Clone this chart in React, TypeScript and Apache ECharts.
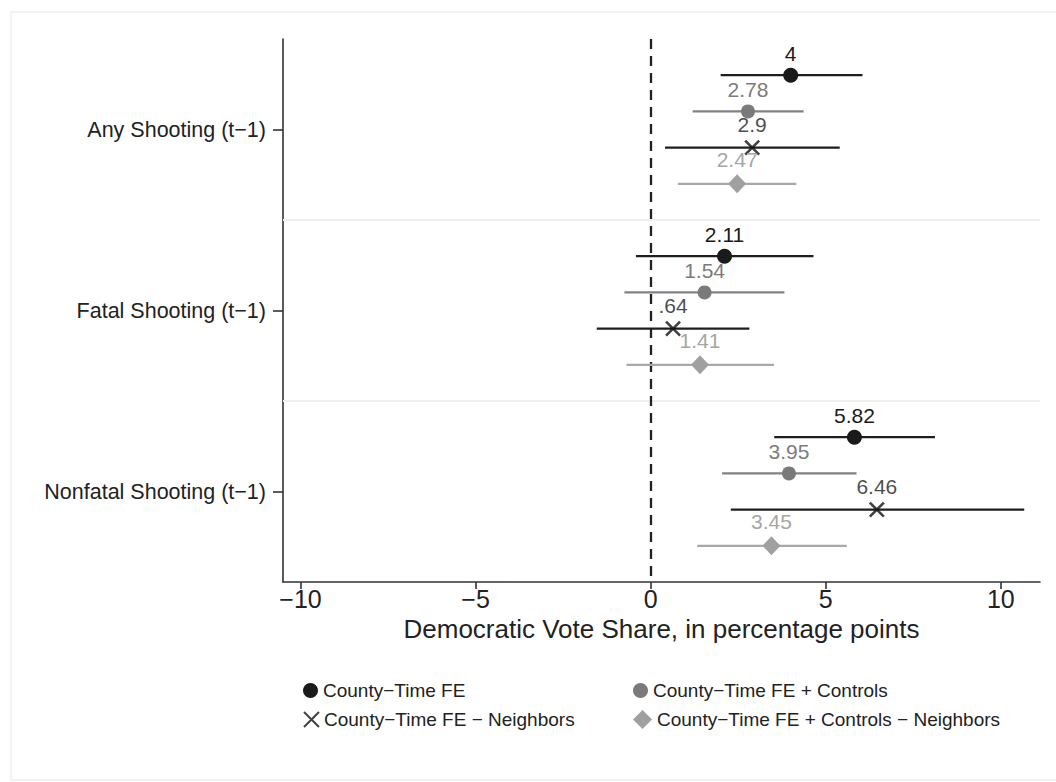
import React, { useEffect, useRef } from "react";
import * as echarts from "echarts";

const categories = ["Any Shooting (t−1)", "Fatal Shooting (t−1)", "Nonfatal Shooting (t−1)"];
const models = [
  "County−Time FE",
  "County−Time FE + Controls",
  "County−Time FE − Neighbors",
  "County−Time FE + Controls − Neighbors",
];
// point estimates per model, one per category
const est1 = [4, 2.11, 5.82];
const est2 = [2.78, 1.54, 3.95];
const est3 = [2.9, 0.64, 6.46];
const est4 = [2.47, 1.41, 3.45];
// confidence interval bounds
const lo1 = [2.0, -0.42, 3.53];
const hi1 = [6.05, 4.65, 8.12];
const lo2 = [1.2, -0.75, 2.04];
const hi2 = [4.37, 3.82, 5.88];
const lo3 = [0.41, -1.54, 2.29];
const hi3 = [5.4, 2.82, 10.67];
const lo4 = [0.78, -0.69, 1.33];
const hi4 = [4.16, 3.52, 5.6];
const xTicks = [-10, -5, 0, 5, 10];

const FONT = "'Liberation Sans', Arial, Helvetica, sans-serif";

const ests = [est1, est2, est3, est4];
const los = [lo1, lo2, lo3, lo4];
const his = [hi1, hi2, hi3, hi4];
const barColors = ["#1e1e1e", "#828282", "#1e1e1e", "#a8a8a8"];
const markColors = ["#1a1a1a", "#7a7a7a", "#111111", "#a0a0a0"];
const labelColors = ["#1a1a1a", "#7c7c7c", "#1a1a1a", "#a6a6a6"];
const symbols = ["circle", "circle", "path://M0,0L10,10M10,0L0,10", "diamond"];
const symbolSizes: any[] = [15, 14, 14, [18, 19]];

const fmt = (v: number) => {
  let s = String(v);
  if (s.startsWith("0.")) s = s.slice(1);
  if (s.startsWith("-0.")) s = "−" + s.slice(2);
  return s;
};

export default function App() {
  const ref = useRef<HTMLDivElement>(null);
  useEffect(() => {
    if (!ref.current) return;
    const chart = echarts.init(ref.current, null, { renderer: "svg" });
    const rowY = (i: number, j: number) => i * 5 + j + 1;

    const series: any[] = [];
    models.forEach((m, j) => {
      const barData = categories.map((_, i) => [los[j][i], his[j][i], rowY(i, j)]);
      const s: any = {
        type: "custom",
        name: m + " CI",
        silent: true,
        z: 2,
        data: barData,
        encode: { x: [0, 1], y: 2 },
        renderItem: (params: any, api: any) => {
          const a = api.coord([api.value(0), api.value(2)]);
          const b = api.coord([api.value(1), api.value(2)]);
          return {
            type: "line",
            shape: { x1: a[0], y1: a[1], x2: b[0], y2: b[1] },
            style: { stroke: barColors[j], lineWidth: 2.2 },
          };
        },
      };
      if (j === 0) {
        s.markLine = {
          silent: true,
          symbol: ["none", "none"],
          label: { show: false },
          z: 1,
          data: [
            { yAxis: 5, lineStyle: { color: "#efefef", width: 2, type: "solid" } },
            { yAxis: 10, lineStyle: { color: "#efefef", width: 2, type: "solid" } },
            { xAxis: 0, lineStyle: { color: "#222222", width: 2.3, type: [10, 7] } },
          ],
        };
      }
      series.push(s);
    });
    models.forEach((m, j) => {
      const isX = j === 2;
      series.push({
        type: "scatter",
        name: m,
        z: 5,
        symbol: symbols[j],
        symbolSize: symbolSizes[j],
        data: categories.map((_, i) => [ests[j][i], rowY(i, j)]),
        itemStyle: isX
          ? { color: "rgba(0,0,0,0)", borderColor: markColors[j], borderWidth: 2.6 }
          : { color: markColors[j], opacity: 1 },
        label: {
          show: true,
          position: "top",
          distance: 4,
          fontFamily: FONT,
          fontSize: 21,
          color: labelColors[j],
          formatter: (p: any) => fmt(p.value[0]),
        },
      });
    });

    const legendPos = [
      { left: 298, top: 676 },
      { left: 628, top: 676 },
      { left: 298, top: 705 },
      { left: 628, top: 705 },
    ];
    const legend = models.map((m, j) => ({
      data: [m],
      left: legendPos[j].left,
      top: legendPos[j].top,
      itemWidth: j === 3 ? 19 : 15,
      itemHeight: j === 3 ? 19 : 15,
      selectedMode: false,
      textStyle: { fontFamily: FONT, fontSize: 19, color: "#222" },
    }));

    chart.setOption({
      animation: false,
      backgroundColor: "#ffffff",
      textStyle: { fontFamily: FONT },
      graphic: [
        {
          type: "rect",
          shape: { x: 11, y: 12, width: 1060, height: 768 },
          style: { fill: "none", stroke: "#efefef", lineWidth: 1.5 },
          silent: true,
          z: -10,
        },
      ],
      legend,
      grid: { left: 283, right: 16, top: 39, bottom: 200, containLabel: false },
      xAxis: {
        type: "value",
        min: -10.5,
        max: 11.12,
        name: "Democratic Vote Share, in percentage points",
        nameLocation: "middle",
        nameGap: 32,
        nameTextStyle: { fontFamily: FONT, fontSize: 26, color: "#222" },
        axisLine: { show: true, onZero: false, lineStyle: { color: "#333", width: 1.6 } },
        axisTick: { show: true, customValues: xTicks, length: 7, lineStyle: { color: "#333", width: 1.6 } },
        axisLabel: {
          customValues: xTicks,
          fontFamily: FONT,
          fontSize: 25,
          color: "#222",
          margin: 4,
          formatter: (v: number) => (v < 0 ? "−" + Math.abs(v) : String(v)),
        },
        splitLine: { show: false },
      },
      yAxis: {
        type: "value",
        inverse: true,
        min: 0,
        max: 15,
        axisLine: { show: true, onZero: false, lineStyle: { color: "#333", width: 1.6 } },
        axisTick: { show: true, customValues: [2.5, 7.5, 12.5], length: 10, lineStyle: { color: "#333", width: 1.6 } },
        axisLabel: {
          customValues: [2.5, 7.5, 12.5],
          fontFamily: FONT,
          fontSize: 21.5,
          color: "#222",
          margin: 17,
          formatter: (v: number) => categories[Math.round((v - 2.5) / 5)] ?? "",
        },
        splitLine: { show: false },
      },
      series,
    });
    return () => chart.dispose();
  }, []);
  return (
    <div
      ref={ref}
      style={{ position: "absolute", left: 0, top: 0, width: 1056, height: 782 }}
    />
  );
}
